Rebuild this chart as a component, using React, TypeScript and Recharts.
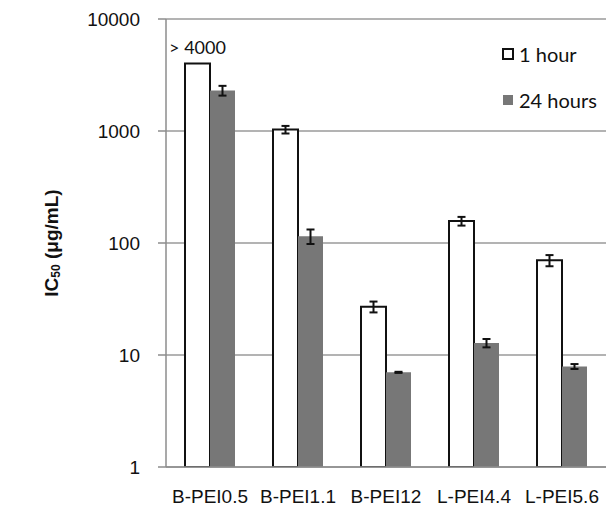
import { Bar, BarChart, CartesianGrid, ErrorBar, LabelList, Legend, XAxis, YAxis } from "recharts"

const categories = ["B-PEI0.5", "B-PEI1.1", "B-PEI12", "L-PEI4.4", "L-PEI5.6"]
const oneHour = [4000, 1030, 27, 157, 70]
const oneHourErr = [null, 80, 3, 14, 8]
const day = [2300, 115, 7.0, 12.8, 7.9]
const dayErr = [230, 17, 0.08, 1.1, 0.4]
// non-breaking space keeps the note on one line
const notes = [">\u00a04000", "", "", "", ""]
const yTicks = [1, 10, 100, 1000, 10000]
const boundaryTicks = [0, 1, 2, 3, 4, 5]

const chartData = categories.map((name, i) => ({
  name,
  oneHour: oneHour[i],
  oneHourErr: oneHourErr[i],
  day: day[i],
  dayErr: dayErr[i],
  note: notes[i],
}))

const tickFont = { fontSize: 19, fill: "#111", fontFamily: "'Liberation Sans', Arial, sans-serif" }

function YLabel({ viewBox }: any) {
  const cx = 51
  const cy = viewBox.y + viewBox.height / 2
  return (
    <text
      x={cx}
      y={cy}
      transform={`rotate(-90 ${cx} ${cy})`}
      textAnchor="middle"
      dominantBaseline="central"
      fontFamily="'Liberation Sans', Arial, sans-serif"
      fontWeight="bold"
      fontSize={19}
      fill="#111"
    >
      IC<tspan fontSize={12} dy={5}>50</tspan>
      <tspan dy={-5}> (μg/mL)</tspan>
    </text>
  )
}

function LegendBox() {
  const rows = [
    { label: "1 hour", fill: "#fff", stroke: "#111" },
    { label: "24 hours", fill: "#777", stroke: "none" },
  ]
  return (
    <div style={{ fontFamily: "Lato, sans-serif", fontSize: 20, color: "#111" }}>
      {rows.map(r => (
        <div key={r.label} style={{ display: "flex", alignItems: "center", height: 46 }}>
          <svg width={12} height={12} style={{ marginRight: 5 }}>
            <rect x={1} y={1} width={10} height={10} fill={r.fill} stroke={r.stroke} strokeWidth={r.stroke === "none" ? 0 : 2} />
          </svg>
          {r.label}
        </div>
      ))}
    </div>
  )
}

export default function App() {
  return (
    <div style={{ position: "absolute", left: 0, top: 0 }}>
      <BarChart
        width={606}
        height={507}
        data={chartData}
        margin={{ top: 19, right: 0, bottom: 0, left: 0 }}
        barGap={0}
        barCategoryGap={19}
      >
        <CartesianGrid vertical={false} stroke="#9a9a9a" strokeWidth={1.5} />
        <XAxis
          dataKey="name"
          height={40}
          tickLine={false}
          axisLine={{ stroke: "#8c8c8c", strokeWidth: 1.5 }}
          tick={tickFont}
          tickSize={5}
          tickMargin={18}
          interval={0}
        />
        <XAxis
          xAxisId="bounds"
          type="number"
          domain={[0, 5]}
          ticks={boundaryTicks}
          height={0}
          axisLine={false}
          tickLine={{ stroke: "#8c8c8c", strokeWidth: 1.5 }}
          tickSize={5}
          tickFormatter={() => ""}
        />
        <YAxis
          scale="log"
          domain={[1, 10000]}
          ticks={yTicks}
          allowDataOverflow
          width={166}
          tick={tickFont}
          tickSize={8}
          tickMargin={18}
          tickLine={{ stroke: "#8c8c8c", strokeWidth: 1.5 }}
          axisLine={{ stroke: "#8c8c8c", strokeWidth: 1.5 }}
          label={{ content: <YLabel /> }}
        />
        <Legend
          layout="vertical"
          align="center"
          verticalAlign="middle"
          content={<LegendBox />}
          wrapperStyle={{ position: "absolute", left: 502, top: 31, width: 110 }}
        />
        <Bar dataKey="oneHour" name="1 hour" fill="#fff" stroke="#111" strokeWidth={2} isAnimationActive={false}>
          <ErrorBar dataKey="oneHourErr" width={4} stroke="#111" strokeWidth={2} />
          <LabelList
            dataKey="note"
            position="top"
            offset={10}
            fill="#111"
            stroke="none"
            style={{ fontFamily: "Lato, sans-serif", fontSize: 18 }}
          />
        </Bar>
        <Bar dataKey="day" name="24 hours" fill="#777" isAnimationActive={false}>
          <ErrorBar dataKey="dayErr" width={4} stroke="#111" strokeWidth={2} />
        </Bar>
      </BarChart>
    </div>
  )
}
